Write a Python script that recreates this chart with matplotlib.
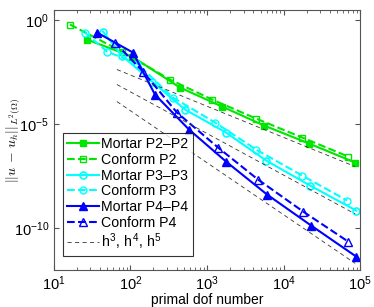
import matplotlib
matplotlib.use("Agg")
import matplotlib.pyplot as plt
import numpy as np

plt.rcParams['font.family'] = ['Liberation Sans', 'DejaVu Sans']
plt.rcParams['mathtext.fontset'] = 'cm'

# Mortar P2-P2
m2_dof = [27.0, 104.6, 443.6, 1570, 5560, 21540, 86100]
m2_err = [0.118, 0.0180, 5.81e-4, 7.10e-5, 8.66e-6, 1.18e-6, 1.44e-7]
# Conform P2
c2_dof = [16.2, 77.4, 328, 1162, 4370, 17450, 69700]
c2_err = [0.621, 0.0313, 1.41e-3, 1.54e-4, 1.88e-5, 2.30e-6, 2.80e-7]
# Mortar P3-P3
m3_dof = [43.7, 77.4, 191, 516, 1771, 5905, 22200, 88700]
m3_err = [0.286, 0.0201, 1.13e-3, 5.09e-5, 3.99e-6, 1.80e-7, 1.13e-8, 7.10e-10]
# Conform P3
c3_dof = [25.4, 49.3, 121.6, 359, 1273, 4370, 17450, 67600]
c3_err = [0.256, 0.0313, 8.28e-3, 1.92e-4, 1.21e-5, 6.08e-7, 3.42e-8, 2.15e-9]
# Mortar P4-P4
m4_dof = [36.5, 107.8, 209, 582, 1771, 6085, 22880, 88700]
m4_err = [0.256, 0.0280, 2.68e-4, 5.56e-6, 1.61e-7, 4.17e-9, 1.35e-10, 4.36e-12]
# Conform P4
c4_dof = [62.7, 145.7, 405, 1393, 4640, 17990, 69700]
c4_err = [0.0847, 3.42e-3, 3.65e-5, 7.59e-7, 2.19e-8, 6.35e-10, 2.29e-11]

# reference slopes h^3, h^4, h^5 (endpoints)
ref_dof = [66.6, 86100]
ref_h3 = [4.26e-3, 9.2e-8]
ref_h4 = [8.11e-4, 4.85e-10]
ref_h5 = [1.23e-4, 2.05e-12]

labels = ['Mortar P2\u2013P2', 'Conform P2', 'Mortar P3\u2013P3', 'Conform P3',
          'Mortar P4\u2013P4', 'Conform P4',
          r'h$^\mathregular{3}$, h$^\mathregular{4}$, h$^\mathregular{5}$']

green = '#00e600'
cyan = '#00ffff'
blue = '#0000ff'

fig = plt.figure(figsize=(3.74, 3.07), dpi=100)
ax = fig.add_axes([0.144, 0.121, 0.819, 0.845])

lw = 1.5
ax.plot(m2_dof, m2_err, '-', color=green, lw=lw, marker='s', ms=4.5, mfc=green, mec=green, label=labels[0])
ax.plot(c2_dof, c2_err, '--', color=green, lw=lw, marker='s', ms=4.5, mfc='none', mec=green, label=labels[1])
ax.plot(m3_dof, m3_err, '-', color=cyan, lw=lw, marker='o', ms=5, mfc='none', mec=cyan, mew=1.2, label=labels[2])
ax.plot(c3_dof, c3_err, '--', color=cyan, lw=lw, marker='o', ms=5, mfc='none', mec=cyan, mew=1.0, label=labels[3])
ax.plot(m4_dof, m4_err, '-', color=blue, lw=lw, marker='^', ms=6, mfc=blue, mec=blue, label=labels[4])
ax.plot(c4_dof, c4_err, '--', color=blue, lw=lw, marker='^', ms=6, mfc='none', mec=blue, mew=1.0, label=labels[5])
ax.plot(ref_dof, ref_h3, '--', color='#333333', lw=0.6, dashes=(5, 4), label=labels[6])
ax.plot(ref_dof, ref_h4, '--', color='#333333', lw=0.6, dashes=(5, 4))
ax.plot(ref_dof, ref_h5, '--', color='#333333', lw=0.6, dashes=(5, 4))

ax.set_xscale('log')
ax.set_yscale('log')
ax.set_xlim(10, 1e5)
ax.set_ylim(10**-12.0, 10**0.47)
ax.set_xticks([10, 100, 1000, 10000, 100000])
ax.set_yticks([1e-10, 1e-5, 1e0])
ax.yaxis.set_minor_locator(matplotlib.ticker.NullLocator())
ax.tick_params(which='both', direction='in', top=True, right=True, labelsize=10.5, color='#555555')
ax.tick_params(which='major', length=3.5)
ax.tick_params(which='minor', length=2)
for s in ax.spines.values():
    s.set_color('#555555')
    s.set_linewidth(0.8)

ax.set_xlabel('primal dof number', fontsize=10, labelpad=0)
ax.set_ylabel(r'$||u\,-\,u_h||_{L^2(\Omega)}$', fontsize=10)
ax.yaxis.set_label_coords(-0.105, 0.5)

leg = ax.legend(loc='lower left', bbox_to_anchor=(0.029, 0.053), fontsize=10.2, frameon=True,
                fancybox=False, edgecolor='black', handlelength=2.25, handletextpad=0.18,
                labelspacing=0.12, borderpad=0.3, borderaxespad=0)
leg.get_frame().set_linewidth(0.8)

fig.savefig('out.png', dpi=100)
